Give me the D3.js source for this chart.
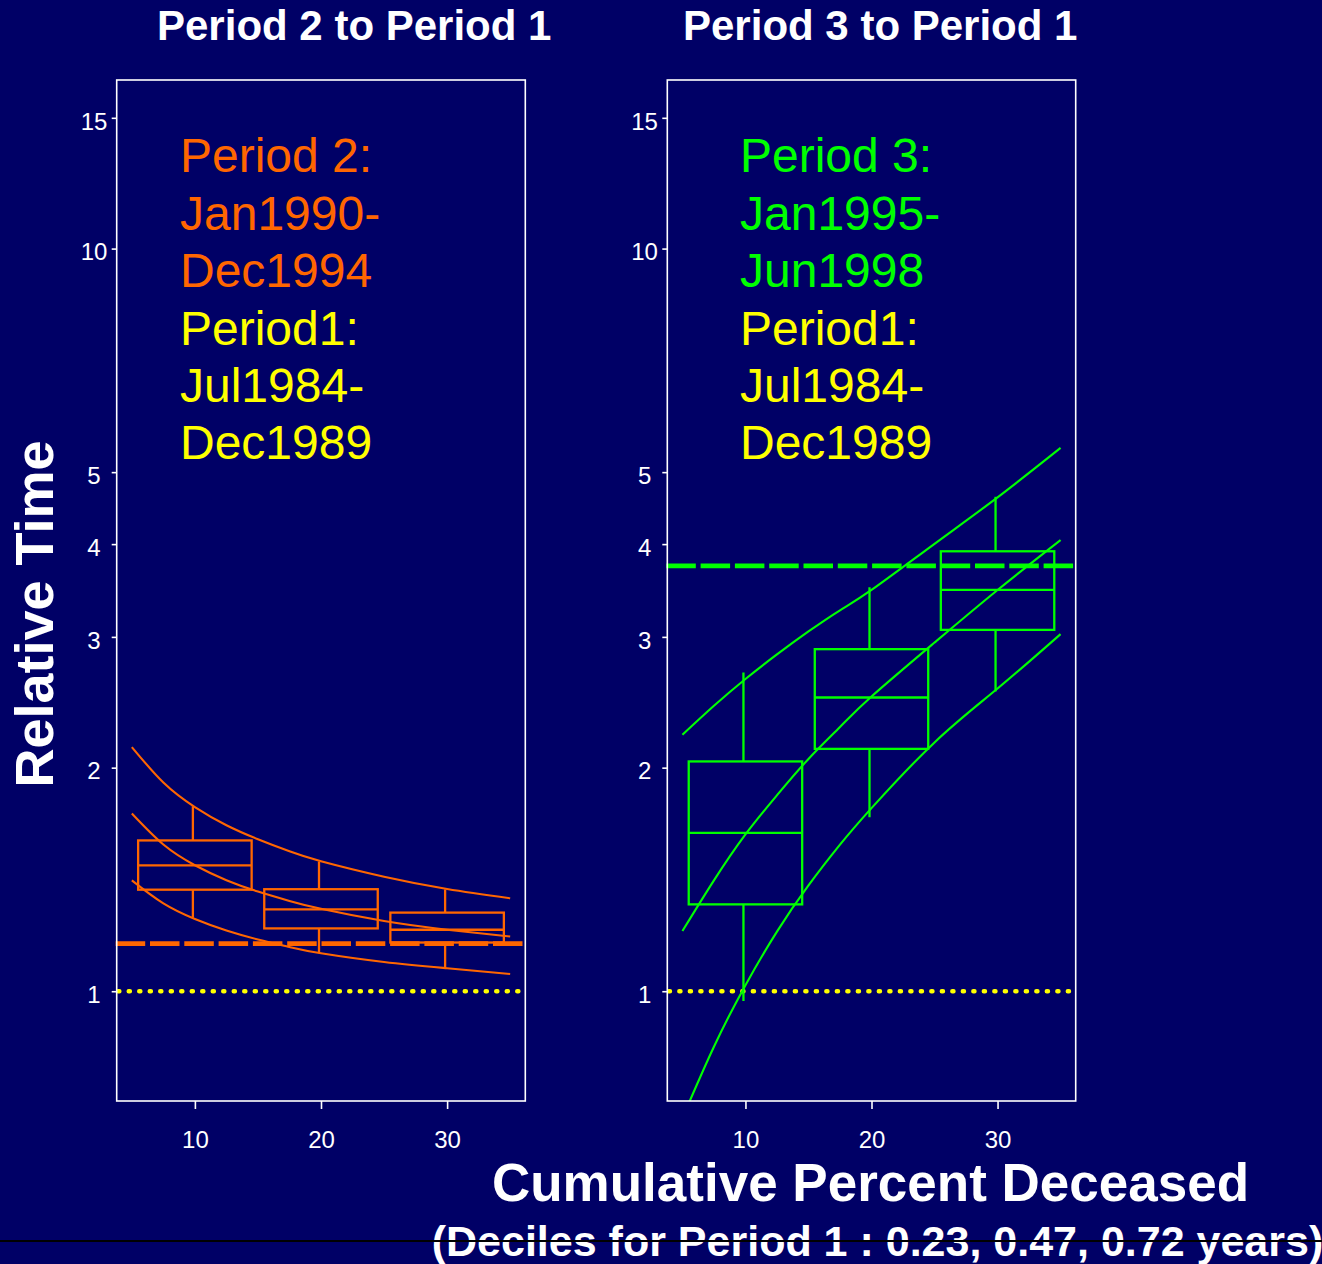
<!DOCTYPE html>
<html><head><meta charset="utf-8">
<script src="https://cdn.jsdelivr.net/npm/d3@7"></script>
<style>
html,body{margin:0;padding:0;background:#000066;}
svg{display:block;}
text{font-family:"Liberation Sans",Arial,sans-serif;}
</style></head>
<body>
<script>
// ---------- data ----------
const panelTitles = ["Period 2 to Period 1", "Period 3 to Period 1"];
const xTicks = [10, 20, 30];
const yTicks = [1, 2, 3, 4, 5, 10, 15];
const xLim = [5, 35];
const yLim = [0.8, 15];

const boxX = [10, 20, 30];
// Period 2 vs Period 1
const p2Lo  = [1.256, 1.125, 1.078];
const p2Q1  = [1.370, 1.215, 1.163];
const p2Med = [1.477, 1.289, 1.210];
const p2Q3  = [1.596, 1.372, 1.276];
const p2Hi  = [1.775, 1.495, 1.371];
// Period 3 vs Period 1
const p3Lo  = [0.970, 1.715, 2.533];
const p3Q1  = [1.309, 2.120, 3.066];
const p3Med = [1.634, 2.486, 3.470];
const p3Q3  = [2.039, 2.888, 3.912];
const p3Hi  = [2.687, 3.499, 4.632];

const curveX  = [5, 7.5, 10, 12.5, 15, 17.5, 20, 25, 30, 35];
const p2Upper = [2.132, 1.910, 1.770, 1.673, 1.602, 1.543, 1.496, 1.426, 1.373, 1.334];
const p2Mid   = [1.735, 1.576, 1.478, 1.411, 1.362, 1.323, 1.291, 1.243, 1.210, 1.185];
const p2Lower = [1.410, 1.313, 1.251, 1.207, 1.174, 1.147, 1.125, 1.095, 1.074, 1.055];
const p3Upper = [2.215, 2.423, 2.633, 2.841, 3.051, 3.258, 3.470, 4.004, 4.624, 5.390];
const p3Mid   = [1.205, 1.410, 1.626, 1.836, 2.055, 2.269, 2.494, 2.948, 3.470, 4.051];
const p3Lower = [0.675, 0.842, 1.019, 1.203, 1.388, 1.575, 1.764, 2.163, 2.556, 3.026];

const p2Ref = 1.159;
const p3Ref = 3.738;
const unity = 1;

const p2Legend = ["Period 2:", "Jan1990-", "Dec1994", "Period1:", "Jul1984-", "Dec1989"];
const p3Legend = ["Period 3:", "Jan1995-", "Jun1998", "Period1:", "Jul1984-", "Dec1989"];

const yLabel = "Relative Time";
const xLabel = "Cumulative Percent Deceased";
const xSubLabel = "(Deciles for Period 1 : 0.23, 0.47, 0.72 years)";

// ---------- styles ----------
const BG = "#000066", ORANGE = "#FF6600", GREEN = "#00FF00", YELLOW = "#FFFF00", WHITE = "#FFFFFF";
const W = 1322, H = 1264;
const panels = [
  {x0: 116.7, x1: 525.3, title: panelTitles[0], titleX: 157, col: ORANGE,
   lo: p2Lo, q1: p2Q1, med: p2Med, q3: p2Q3, hi: p2Hi,
   curves: [p2Upper, p2Mid, p2Lower], ref: p2Ref, legend: p2Legend, legendX: 180},
  {x0: 667.3, x1: 1075.7, title: panelTitles[1], titleX: 683, col: GREEN,
   lo: p3Lo, q1: p3Q1, med: p3Med, q3: p3Q3, hi: p3Hi,
   curves: [p3Upper, p3Mid, p3Lower], ref: p3Ref, legend: p3Legend, legendX: 740}
];
const yTop = 80, yBot = 1101;
const boxHalf = 4.5;

function expand(lim, log) {
  if (log) {
    const a = Math.log10(lim[0]), b = Math.log10(lim[1]), d = (b - a) * 0.04;
    return [Math.pow(10, a - d), Math.pow(10, b + d)];
  }
  const d = (lim[1] - lim[0]) * 0.04;
  return [lim[0] - d, lim[1] + d];
}

const svg = d3.select("body").append("svg").attr("width", W).attr("height", H);
svg.append("rect").attr("width", W).attr("height", H).attr("fill", BG);

const y = d3.scaleLog().domain(expand(yLim, true)).range([yBot, yTop]);

panels.forEach((p, i) => {
  const x = d3.scaleLinear().domain(expand(xLim, false)).range([p.x0, p.x1]);
  const g = svg.append("g");
  const clipId = "clip" + i;
  svg.append("clipPath").attr("id", clipId).append("rect")
    .attr("x", p.x0).attr("y", yTop).attr("width", p.x1 - p.x0).attr("height", yBot - yTop);
  const pg = g.append("g").attr("clip-path", `url(#${clipId})`);

  // unity dotted line
  pg.append("line").attr("x1", p.x0 + 1.5).attr("x2", p.x1).attr("y1", y(unity)).attr("y2", y(unity))
    .attr("stroke", YELLOW).attr("stroke-width", 4.4).attr("stroke-linecap", "round")
    .attr("stroke-dasharray", "1.2,9.3");

  // curves
  const line = d3.line().x((d, k) => x(curveX[k])).y(d => y(d)).curve(d3.curveNatural);
  p.curves.forEach(c => {
    pg.append("path").attr("d", line(c)).attr("fill", "none")
      .attr("stroke", p.col).attr("stroke-width", 2.1);
  });

  // boxes
  boxX.forEach((bx, k) => {
    pg.append("rect").attr("x", x(bx - boxHalf)).attr("width", x(bx + boxHalf) - x(bx - boxHalf))
      .attr("y", y(p.q3[k])).attr("height", y(p.q1[k]) - y(p.q3[k]))
      .attr("fill", "none").attr("stroke", p.col).attr("stroke-width", 2.3);
    pg.append("line").attr("x1", x(bx - boxHalf)).attr("x2", x(bx + boxHalf))
      .attr("y1", y(p.med[k])).attr("y2", y(p.med[k])).attr("stroke", p.col).attr("stroke-width", 2.3);
    pg.append("line").attr("x1", x(bx) - 2).attr("x2", x(bx) - 2)
      .attr("y1", y(p.q3[k])).attr("y2", y(p.hi[k])).attr("stroke", p.col).attr("stroke-width", 2.3);
    pg.append("line").attr("x1", x(bx) - 2).attr("x2", x(bx) - 2)
      .attr("y1", y(p.q1[k])).attr("y2", y(p.lo[k])).attr("stroke", p.col).attr("stroke-width", 2.3);
  });

  // reference dashed line
  g.append("line").attr("x1", p.x0 - 1).attr("x2", p.x1 + 1.5).attr("y1", y(p.ref)).attr("y2", y(p.ref))
    .attr("stroke", p.col).attr("stroke-width", 4.8).attr("stroke-dasharray", "29.5,4.8");

  // frame
  g.append("rect").attr("x", p.x0).attr("y", yTop).attr("width", p.x1 - p.x0).attr("height", yBot - yTop)
    .attr("fill", "none").attr("stroke", WHITE).attr("stroke-width", 1.6);

  // axes
  const ya = g.append("g").attr("transform", `translate(${p.x0},0)`)
    .call(d3.axisLeft(y).tickValues(yTicks).tickFormat(d3.format("d")).tickSize(5).tickPadding(3));
  const xa = g.append("g").attr("transform", `translate(0,${yBot})`)
    .call(d3.axisBottom(x).tickValues(xTicks).tickFormat(d3.format("d")).tickSize(8).tickPadding(22));
  [ya, xa].forEach(a => {
    a.select(".domain").remove();
    a.selectAll("line").attr("stroke", WHITE).attr("stroke-width", 1.6);
    a.selectAll("text").attr("fill", WHITE).style("font-size", "24px")
      .style("font-family", '"Liberation Sans",Arial,sans-serif');
  });
  ya.selectAll("text").attr("dy", "0.47em").attr("x", -22.7).attr("text-anchor", "middle");

  // title
  svg.append("text").attr("x", p.titleX).attr("y", 40).attr("fill", WHITE)
    .style("font-size", "42px").style("font-weight", "bold").text(p.title);

  // legend text
  p.legend.forEach((t, k) => {
    svg.append("text").attr("x", p.legendX).attr("y", 172.3 + k * 57.4)
      .attr("fill", k < 3 ? p.col : YELLOW).style("font-size", "48px").text(t);
  });
});

// axis titles
svg.append("text").attr("transform", "translate(53,614) rotate(-90)").attr("text-anchor", "middle")
  .attr("fill", WHITE).style("font-size", "54px").style("font-weight", "bold").text(yLabel);
svg.append("text").attr("x", 870.5).attr("y", 1201).attr("text-anchor", "middle")
  .attr("fill", WHITE).style("font-size", "53px").style("font-weight", "bold").text(xLabel);
svg.append("text").attr("x", 877.5).attr("y", 1256).attr("text-anchor", "middle")
  .attr("fill", WHITE).style("font-size", "43px").style("font-weight", "bold").text(xSubLabel);

// black rule across the bottom
svg.append("line").attr("x1", 0).attr("x2", W).attr("y1", 1241).attr("y2", 1241)
  .attr("stroke", "#000000").attr("stroke-width", 2);
</script>
</body></html>
